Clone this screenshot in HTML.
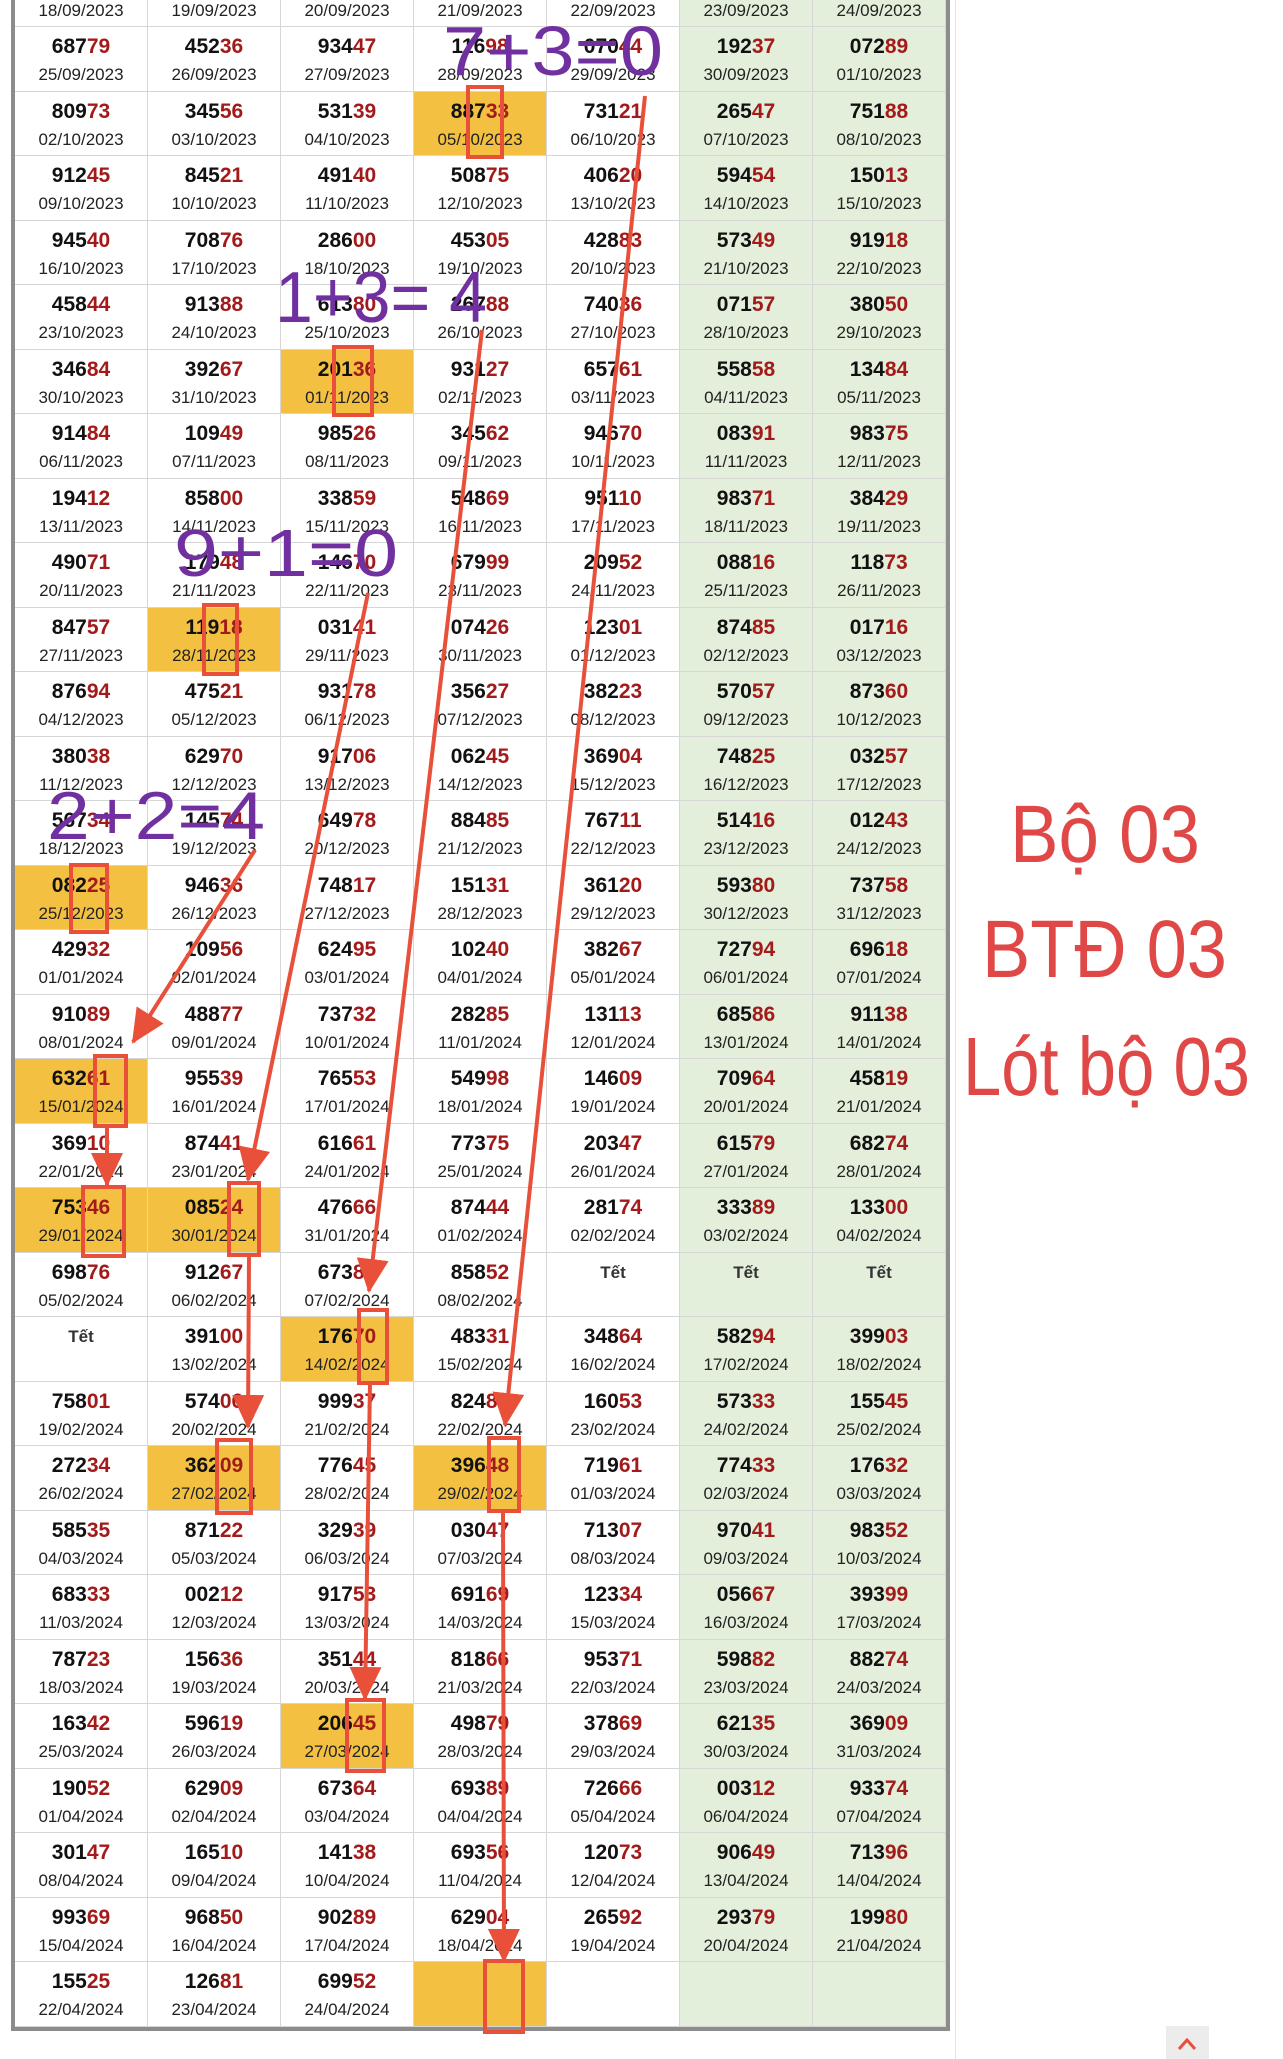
<!DOCTYPE html>
<html><head><meta charset="utf-8">
<style>
html,body{margin:0;padding:0;background:#fff;}
body{width:1283px;height:2059px;position:relative;overflow:hidden;font-family:"Liberation Sans","Noto Sans CJK SC",sans-serif;}
#t{position:absolute;left:11px;top:-37.5px;display:grid;grid-template-columns:repeat(7,133px);grid-template-rows:repeat(32,64.5px);border:4px solid #8c8c8c;border-top:none;}
.c{position:relative;box-sizing:border-box;border-right:1px solid #d6d6d6;border-bottom:1px solid #d6d6d6;background:#fff;}
.c:nth-child(7n+6),.c:nth-child(7n+7){background:#e3efdb;}
.c.y{background:#f3c042;}
.c b{position:absolute;left:0;right:0;top:8px;text-align:center;font:bold 21px/24px "Liberation Sans",sans-serif;color:#111;}
.c i{font-style:normal;color:#a31a1a;}
.c em{position:absolute;left:0;right:0;top:37px;text-align:center;font:17px/22px "Liberation Sans",sans-serif;font-style:normal;color:#222;}
.c b.tet{font-size:17px;color:#333;}
#frame{position:absolute;left:955px;top:0;width:1px;height:2059px;background:#e4e4e4;}
#ov{position:absolute;left:0;top:0;}
</style></head><body>
<div id="frame"></div>
<div id="t">
<div class="c"><em>18/09/2023</em></div><div class="c"><em>19/09/2023</em></div><div class="c"><em>20/09/2023</em></div><div class="c"><em>21/09/2023</em></div><div class="c"><em>22/09/2023</em></div><div class="c"><em>23/09/2023</em></div><div class="c"><em>24/09/2023</em></div>
<div class="c"><b>687<i>79</i></b><em>25/09/2023</em></div><div class="c"><b>452<i>36</i></b><em>26/09/2023</em></div><div class="c"><b>934<i>47</i></b><em>27/09/2023</em></div><div class="c"><b>116<i>98</i></b><em>28/09/2023</em></div><div class="c"><b>070<i>44</i></b><em>29/09/2023</em></div><div class="c"><b>192<i>37</i></b><em>30/09/2023</em></div><div class="c"><b>072<i>89</i></b><em>01/10/2023</em></div>
<div class="c"><b>809<i>73</i></b><em>02/10/2023</em></div><div class="c"><b>345<i>56</i></b><em>03/10/2023</em></div><div class="c"><b>531<i>39</i></b><em>04/10/2023</em></div><div class="c y"><b>887<i>33</i></b><em>05/10/2023</em></div><div class="c"><b>731<i>21</i></b><em>06/10/2023</em></div><div class="c"><b>265<i>47</i></b><em>07/10/2023</em></div><div class="c"><b>751<i>88</i></b><em>08/10/2023</em></div>
<div class="c"><b>912<i>45</i></b><em>09/10/2023</em></div><div class="c"><b>845<i>21</i></b><em>10/10/2023</em></div><div class="c"><b>491<i>40</i></b><em>11/10/2023</em></div><div class="c"><b>508<i>75</i></b><em>12/10/2023</em></div><div class="c"><b>406<i>20</i></b><em>13/10/2023</em></div><div class="c"><b>594<i>54</i></b><em>14/10/2023</em></div><div class="c"><b>150<i>13</i></b><em>15/10/2023</em></div>
<div class="c"><b>945<i>40</i></b><em>16/10/2023</em></div><div class="c"><b>708<i>76</i></b><em>17/10/2023</em></div><div class="c"><b>286<i>00</i></b><em>18/10/2023</em></div><div class="c"><b>453<i>05</i></b><em>19/10/2023</em></div><div class="c"><b>428<i>83</i></b><em>20/10/2023</em></div><div class="c"><b>573<i>49</i></b><em>21/10/2023</em></div><div class="c"><b>919<i>18</i></b><em>22/10/2023</em></div>
<div class="c"><b>458<i>44</i></b><em>23/10/2023</em></div><div class="c"><b>913<i>88</i></b><em>24/10/2023</em></div><div class="c"><b>613<i>80</i></b><em>25/10/2023</em></div><div class="c"><b>267<i>88</i></b><em>26/10/2023</em></div><div class="c"><b>740<i>36</i></b><em>27/10/2023</em></div><div class="c"><b>071<i>57</i></b><em>28/10/2023</em></div><div class="c"><b>380<i>50</i></b><em>29/10/2023</em></div>
<div class="c"><b>346<i>84</i></b><em>30/10/2023</em></div><div class="c"><b>392<i>67</i></b><em>31/10/2023</em></div><div class="c y"><b>201<i>36</i></b><em>01/11/2023</em></div><div class="c"><b>931<i>27</i></b><em>02/11/2023</em></div><div class="c"><b>657<i>61</i></b><em>03/11/2023</em></div><div class="c"><b>558<i>58</i></b><em>04/11/2023</em></div><div class="c"><b>134<i>84</i></b><em>05/11/2023</em></div>
<div class="c"><b>914<i>84</i></b><em>06/11/2023</em></div><div class="c"><b>109<i>49</i></b><em>07/11/2023</em></div><div class="c"><b>985<i>26</i></b><em>08/11/2023</em></div><div class="c"><b>345<i>62</i></b><em>09/11/2023</em></div><div class="c"><b>946<i>70</i></b><em>10/11/2023</em></div><div class="c"><b>083<i>91</i></b><em>11/11/2023</em></div><div class="c"><b>983<i>75</i></b><em>12/11/2023</em></div>
<div class="c"><b>194<i>12</i></b><em>13/11/2023</em></div><div class="c"><b>858<i>00</i></b><em>14/11/2023</em></div><div class="c"><b>338<i>59</i></b><em>15/11/2023</em></div><div class="c"><b>548<i>69</i></b><em>16/11/2023</em></div><div class="c"><b>951<i>10</i></b><em>17/11/2023</em></div><div class="c"><b>983<i>71</i></b><em>18/11/2023</em></div><div class="c"><b>384<i>29</i></b><em>19/11/2023</em></div>
<div class="c"><b>490<i>71</i></b><em>20/11/2023</em></div><div class="c"><b>179<i>48</i></b><em>21/11/2023</em></div><div class="c"><b>146<i>70</i></b><em>22/11/2023</em></div><div class="c"><b>679<i>99</i></b><em>23/11/2023</em></div><div class="c"><b>209<i>52</i></b><em>24/11/2023</em></div><div class="c"><b>088<i>16</i></b><em>25/11/2023</em></div><div class="c"><b>118<i>73</i></b><em>26/11/2023</em></div>
<div class="c"><b>847<i>57</i></b><em>27/11/2023</em></div><div class="c y"><b>119<i>18</i></b><em>28/11/2023</em></div><div class="c"><b>031<i>41</i></b><em>29/11/2023</em></div><div class="c"><b>074<i>26</i></b><em>30/11/2023</em></div><div class="c"><b>123<i>01</i></b><em>01/12/2023</em></div><div class="c"><b>874<i>85</i></b><em>02/12/2023</em></div><div class="c"><b>017<i>16</i></b><em>03/12/2023</em></div>
<div class="c"><b>876<i>94</i></b><em>04/12/2023</em></div><div class="c"><b>475<i>21</i></b><em>05/12/2023</em></div><div class="c"><b>931<i>78</i></b><em>06/12/2023</em></div><div class="c"><b>356<i>27</i></b><em>07/12/2023</em></div><div class="c"><b>382<i>23</i></b><em>08/12/2023</em></div><div class="c"><b>570<i>57</i></b><em>09/12/2023</em></div><div class="c"><b>873<i>60</i></b><em>10/12/2023</em></div>
<div class="c"><b>380<i>38</i></b><em>11/12/2023</em></div><div class="c"><b>629<i>70</i></b><em>12/12/2023</em></div><div class="c"><b>917<i>06</i></b><em>13/12/2023</em></div><div class="c"><b>062<i>45</i></b><em>14/12/2023</em></div><div class="c"><b>369<i>04</i></b><em>15/12/2023</em></div><div class="c"><b>748<i>25</i></b><em>16/12/2023</em></div><div class="c"><b>032<i>57</i></b><em>17/12/2023</em></div>
<div class="c"><b>567<i>34</i></b><em>18/12/2023</em></div><div class="c"><b>145<i>74</i></b><em>19/12/2023</em></div><div class="c"><b>649<i>78</i></b><em>20/12/2023</em></div><div class="c"><b>884<i>85</i></b><em>21/12/2023</em></div><div class="c"><b>767<i>11</i></b><em>22/12/2023</em></div><div class="c"><b>514<i>16</i></b><em>23/12/2023</em></div><div class="c"><b>012<i>43</i></b><em>24/12/2023</em></div>
<div class="c y"><b>082<i>25</i></b><em>25/12/2023</em></div><div class="c"><b>946<i>36</i></b><em>26/12/2023</em></div><div class="c"><b>748<i>17</i></b><em>27/12/2023</em></div><div class="c"><b>151<i>31</i></b><em>28/12/2023</em></div><div class="c"><b>361<i>20</i></b><em>29/12/2023</em></div><div class="c"><b>593<i>80</i></b><em>30/12/2023</em></div><div class="c"><b>737<i>58</i></b><em>31/12/2023</em></div>
<div class="c"><b>429<i>32</i></b><em>01/01/2024</em></div><div class="c"><b>109<i>56</i></b><em>02/01/2024</em></div><div class="c"><b>624<i>95</i></b><em>03/01/2024</em></div><div class="c"><b>102<i>40</i></b><em>04/01/2024</em></div><div class="c"><b>382<i>67</i></b><em>05/01/2024</em></div><div class="c"><b>727<i>94</i></b><em>06/01/2024</em></div><div class="c"><b>696<i>18</i></b><em>07/01/2024</em></div>
<div class="c"><b>910<i>89</i></b><em>08/01/2024</em></div><div class="c"><b>488<i>77</i></b><em>09/01/2024</em></div><div class="c"><b>737<i>32</i></b><em>10/01/2024</em></div><div class="c"><b>282<i>85</i></b><em>11/01/2024</em></div><div class="c"><b>131<i>13</i></b><em>12/01/2024</em></div><div class="c"><b>685<i>86</i></b><em>13/01/2024</em></div><div class="c"><b>911<i>38</i></b><em>14/01/2024</em></div>
<div class="c y"><b>632<i>61</i></b><em>15/01/2024</em></div><div class="c"><b>955<i>39</i></b><em>16/01/2024</em></div><div class="c"><b>765<i>53</i></b><em>17/01/2024</em></div><div class="c"><b>549<i>98</i></b><em>18/01/2024</em></div><div class="c"><b>146<i>09</i></b><em>19/01/2024</em></div><div class="c"><b>709<i>64</i></b><em>20/01/2024</em></div><div class="c"><b>458<i>19</i></b><em>21/01/2024</em></div>
<div class="c"><b>369<i>10</i></b><em>22/01/2024</em></div><div class="c"><b>874<i>41</i></b><em>23/01/2024</em></div><div class="c"><b>616<i>61</i></b><em>24/01/2024</em></div><div class="c"><b>773<i>75</i></b><em>25/01/2024</em></div><div class="c"><b>203<i>47</i></b><em>26/01/2024</em></div><div class="c"><b>615<i>79</i></b><em>27/01/2024</em></div><div class="c"><b>682<i>74</i></b><em>28/01/2024</em></div>
<div class="c y"><b>753<i>46</i></b><em>29/01/2024</em></div><div class="c y"><b>085<i>24</i></b><em>30/01/2024</em></div><div class="c"><b>476<i>66</i></b><em>31/01/2024</em></div><div class="c"><b>874<i>44</i></b><em>01/02/2024</em></div><div class="c"><b>281<i>74</i></b><em>02/02/2024</em></div><div class="c"><b>333<i>89</i></b><em>03/02/2024</em></div><div class="c"><b>133<i>00</i></b><em>04/02/2024</em></div>
<div class="c"><b>698<i>76</i></b><em>05/02/2024</em></div><div class="c"><b>912<i>67</i></b><em>06/02/2024</em></div><div class="c"><b>673<i>88</i></b><em>07/02/2024</em></div><div class="c"><b>858<i>52</i></b><em>08/02/2024</em></div><div class="c"><b class="tet">Tết</b></div><div class="c"><b class="tet">Tết</b></div><div class="c"><b class="tet">Tết</b></div>
<div class="c"><b class="tet">Tết</b></div><div class="c"><b>391<i>00</i></b><em>13/02/2024</em></div><div class="c y"><b>176<i>70</i></b><em>14/02/2024</em></div><div class="c"><b>483<i>31</i></b><em>15/02/2024</em></div><div class="c"><b>348<i>64</i></b><em>16/02/2024</em></div><div class="c"><b>582<i>94</i></b><em>17/02/2024</em></div><div class="c"><b>399<i>03</i></b><em>18/02/2024</em></div>
<div class="c"><b>758<i>01</i></b><em>19/02/2024</em></div><div class="c"><b>574<i>06</i></b><em>20/02/2024</em></div><div class="c"><b>999<i>37</i></b><em>21/02/2024</em></div><div class="c"><b>824<i>88</i></b><em>22/02/2024</em></div><div class="c"><b>160<i>53</i></b><em>23/02/2024</em></div><div class="c"><b>573<i>33</i></b><em>24/02/2024</em></div><div class="c"><b>155<i>45</i></b><em>25/02/2024</em></div>
<div class="c"><b>272<i>34</i></b><em>26/02/2024</em></div><div class="c y"><b>362<i>09</i></b><em>27/02/2024</em></div><div class="c"><b>776<i>45</i></b><em>28/02/2024</em></div><div class="c y"><b>396<i>48</i></b><em>29/02/2024</em></div><div class="c"><b>719<i>61</i></b><em>01/03/2024</em></div><div class="c"><b>774<i>33</i></b><em>02/03/2024</em></div><div class="c"><b>176<i>32</i></b><em>03/03/2024</em></div>
<div class="c"><b>585<i>35</i></b><em>04/03/2024</em></div><div class="c"><b>871<i>22</i></b><em>05/03/2024</em></div><div class="c"><b>329<i>39</i></b><em>06/03/2024</em></div><div class="c"><b>030<i>47</i></b><em>07/03/2024</em></div><div class="c"><b>713<i>07</i></b><em>08/03/2024</em></div><div class="c"><b>970<i>41</i></b><em>09/03/2024</em></div><div class="c"><b>983<i>52</i></b><em>10/03/2024</em></div>
<div class="c"><b>683<i>33</i></b><em>11/03/2024</em></div><div class="c"><b>002<i>12</i></b><em>12/03/2024</em></div><div class="c"><b>917<i>53</i></b><em>13/03/2024</em></div><div class="c"><b>691<i>69</i></b><em>14/03/2024</em></div><div class="c"><b>123<i>34</i></b><em>15/03/2024</em></div><div class="c"><b>056<i>67</i></b><em>16/03/2024</em></div><div class="c"><b>393<i>99</i></b><em>17/03/2024</em></div>
<div class="c"><b>787<i>23</i></b><em>18/03/2024</em></div><div class="c"><b>156<i>36</i></b><em>19/03/2024</em></div><div class="c"><b>351<i>44</i></b><em>20/03/2024</em></div><div class="c"><b>818<i>66</i></b><em>21/03/2024</em></div><div class="c"><b>953<i>71</i></b><em>22/03/2024</em></div><div class="c"><b>598<i>82</i></b><em>23/03/2024</em></div><div class="c"><b>882<i>74</i></b><em>24/03/2024</em></div>
<div class="c"><b>163<i>42</i></b><em>25/03/2024</em></div><div class="c"><b>596<i>19</i></b><em>26/03/2024</em></div><div class="c y"><b>206<i>45</i></b><em>27/03/2024</em></div><div class="c"><b>498<i>79</i></b><em>28/03/2024</em></div><div class="c"><b>378<i>69</i></b><em>29/03/2024</em></div><div class="c"><b>621<i>35</i></b><em>30/03/2024</em></div><div class="c"><b>369<i>09</i></b><em>31/03/2024</em></div>
<div class="c"><b>190<i>52</i></b><em>01/04/2024</em></div><div class="c"><b>629<i>09</i></b><em>02/04/2024</em></div><div class="c"><b>673<i>64</i></b><em>03/04/2024</em></div><div class="c"><b>693<i>89</i></b><em>04/04/2024</em></div><div class="c"><b>726<i>66</i></b><em>05/04/2024</em></div><div class="c"><b>003<i>12</i></b><em>06/04/2024</em></div><div class="c"><b>933<i>74</i></b><em>07/04/2024</em></div>
<div class="c"><b>301<i>47</i></b><em>08/04/2024</em></div><div class="c"><b>165<i>10</i></b><em>09/04/2024</em></div><div class="c"><b>141<i>38</i></b><em>10/04/2024</em></div><div class="c"><b>693<i>56</i></b><em>11/04/2024</em></div><div class="c"><b>120<i>73</i></b><em>12/04/2024</em></div><div class="c"><b>906<i>49</i></b><em>13/04/2024</em></div><div class="c"><b>713<i>96</i></b><em>14/04/2024</em></div>
<div class="c"><b>993<i>69</i></b><em>15/04/2024</em></div><div class="c"><b>968<i>50</i></b><em>16/04/2024</em></div><div class="c"><b>902<i>89</i></b><em>17/04/2024</em></div><div class="c"><b>629<i>04</i></b><em>18/04/2024</em></div><div class="c"><b>265<i>92</i></b><em>19/04/2024</em></div><div class="c"><b>293<i>79</i></b><em>20/04/2024</em></div><div class="c"><b>199<i>80</i></b><em>21/04/2024</em></div>
<div class="c"><b>155<i>25</i></b><em>22/04/2024</em></div><div class="c"><b>126<i>81</i></b><em>23/04/2024</em></div><div class="c"><b>699<i>52</i></b><em>24/04/2024</em></div><div class="c y"></div><div class="c"></div><div class="c"></div><div class="c"></div>
</div>
<svg id="ov" width="1283" height="2059" viewBox="0 0 1283 2059" xmlns="http://www.w3.org/2000/svg">
<defs>
<marker id="ah" markerUnits="userSpaceOnUse" markerWidth="34" markerHeight="32" refX="32" refY="16" orient="auto">
<path d="M0,0 L34,16 L0,32 z" fill="#e8503a"/>
</marker>
</defs>
<g fill="none" stroke="#e8503a" stroke-width="4">
<rect x="468" y="87" width="34" height="70"/>
<rect x="334" y="347" width="38" height="68"/>
<rect x="204" y="605" width="33" height="69"/>
<rect x="71" y="865" width="36" height="67"/>
<rect x="95" y="1056" width="31" height="70"/>
<rect x="83" y="1187" width="41" height="69"/>
<rect x="229" y="1183" width="30" height="72"/>
<rect x="359" y="1310" width="28" height="73"/>
<rect x="217" y="1440" width="34" height="73"/>
<rect x="489" y="1438" width="30" height="73"/>
<rect x="347" y="1700" width="37" height="71"/>
<rect x="485" y="1961" width="38" height="71"/>
</g>
<g stroke="#e8503a" stroke-width="4" marker-end="url(#ah)">
<line x1="255" y1="850" x2="133" y2="1042"/>
<line x1="107" y1="1126" x2="107" y2="1185"/>
<line x1="368" y1="593" x2="248" y2="1180"/>
<line x1="249" y1="1257" x2="248" y2="1427"/>
<line x1="482" y1="330" x2="369" y2="1291"/>
<line x1="370" y1="1383" x2="365" y2="1699"/>
<line x1="645" y1="96" x2="505" y2="1425"/>
<line x1="503" y1="1511" x2="504" y2="1961"/>
</g>
<g fill="#7030a0" font-family="Liberation Sans, sans-serif">
<text x="443" y="75" font-size="70" textLength="220" lengthAdjust="spacingAndGlyphs">7+3=0</text>
<text x="275" y="322" font-size="72" textLength="212" lengthAdjust="spacingAndGlyphs">1+3= 4</text>
<text x="174" y="576" font-size="67" textLength="224" lengthAdjust="spacingAndGlyphs">9+1=0</text>
<text x="47" y="839" font-size="68" textLength="218" lengthAdjust="spacingAndGlyphs">2+2=4</text>
</g>
<g fill="#e04848" font-family="Liberation Sans, sans-serif">
<text x="1010" y="862" font-size="82" textLength="190" lengthAdjust="spacingAndGlyphs">Bộ 03</text>
<text x="982" y="977" font-size="82" textLength="245" lengthAdjust="spacingAndGlyphs">BTĐ 03</text>
<text x="963" y="1095" font-size="83" textLength="287" lengthAdjust="spacingAndGlyphs">Lót bộ 03</text>
</g>
<rect x="1166" y="2026" width="43" height="33" fill="#ececec"/>
<polyline points="1179,2049 1187,2040 1195,2049" fill="none" stroke="#e8503a" stroke-width="3"/>
</svg>
</body></html>
